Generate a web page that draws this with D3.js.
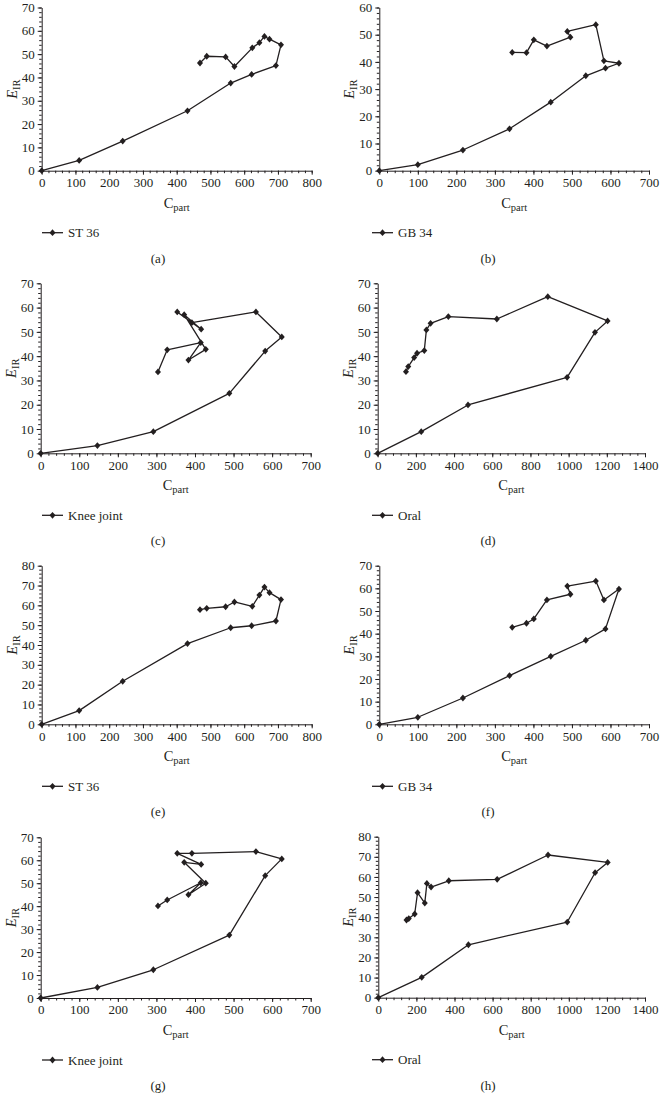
<!DOCTYPE html>
<html><head><meta charset="utf-8">
<script src="https://cdn.jsdelivr.net/npm/d3@7"></script>
<style>
html,body{margin:0;padding:0;background:#fff;}
svg{display:block;}
text{font-family:"Liberation Serif","DejaVu Serif",serif;fill:#231f20;}
</style></head>
<body>
<svg id="c" width="660" height="1104"></svg>
<script>
// ---- data ----
const xST   = [0, 111, 240, 432, 560, 622, 694, 709, 675, 660, 645, 624, 571, 545, 489, 469];
const yA    = [0, 4.4, 12.7, 25.7, 37.6, 41.3, 45.1, 54.0, 56.4, 57.6, 54.9, 52.7, 44.7, 48.8, 49.1, 46.2];
const yE    = [0, 6.9, 21.7, 40.7, 48.7, 49.7, 52.1, 62.9, 66.4, 69.2, 65.2, 59.5, 61.7, 59.3, 58.5, 57.8];

const xGB   = [0, 100, 217, 338, 445, 536, 587, 622, 583, 562, 488, 496, 435, 401, 382, 345];
const yB    = [0, 2.2, 7.6, 15.4, 25.2, 34.9, 37.7, 39.5, 40.4, 53.7, 51.2, 49.1, 45.8, 48.1, 43.4, 43.5];
const yF    = [0, 3.1, 11.6, 21.5, 30.0, 37.1, 42.1, 59.7, 54.9, 63.2, 61.0, 57.4, 54.9, 46.5, 44.6, 42.8];

const xKnee = [0, 147, 292, 489, 582, 625, 558, 392, 354, 416, 372, 428, 383, 415, 328, 304];
const yC    = [0, 3.2, 8.9, 24.7, 42.1, 47.9, 58.2, 53.8, 58.2, 51.1, 57.1, 42.8, 38.4, 45.6, 42.6, 33.5];
const yG    = [0, 4.6, 12.3, 27.4, 53.3, 60.6, 63.8, 63.0, 63.0, 58.2, 59.1, 50.0, 45.0, 50.2, 42.7, 40.1];

const xOral = [0, 228, 473, 992, 1138, 1204, 891, 624, 370, 277, 255, 244, 206, 191, 160, 148];
const yD    = [0, 8.9, 19.9, 31.3, 49.8, 54.5, 64.5, 55.3, 56.3, 53.5, 50.8, 42.3, 41.2, 39.4, 35.7, 33.6];
const yH    = [0, 10.1, 26.3, 37.6, 62.1, 67.2, 70.9, 58.8, 58.1, 55.0, 56.8, 47.0, 52.2, 41.6, 39.3, 38.6];

const seriesNames = ["ST 36", "GB 34", "Knee joint", "Oral", "ST 36", "GB 34", "Knee joint", "Oral"];
const panelLabels = ["(a)", "(b)", "(c)", "(d)", "(e)", "(f)", "(g)", "(h)"];
const xMaxes = [800, 700, 700, 1400, 800, 700, 700, 1400];
const yMaxes = [70, 60, 70, 70, 80, 70, 70, 80];
const xSteps = [100, 100, 100, 200, 100, 100, 100, 200];
const ySteps = [10, 10, 10, 10, 10, 10, 10, 10];

const xsList = [xST, xGB, xKnee, xOral, xST, xGB, xKnee, xOral];
const ysList = [yA, yB, yC, yD, yE, yF, yG, yH];

// layout boxes (plot area in px)
const boxes = [
  {l:41.7, r:311.7, t:7.5,   b:170.7, pl:0},
  {l:379.3,r:649,   t:7.5,   b:170.7, pl:330},
  {l:40.7, r:310.7, t:283.3, b:453.3, pl:0},
  {l:377.7,r:645,   t:283.3, b:453.3, pl:330},
  {l:41.7, r:311.7, t:565.7, b:724.3, pl:0},
  {l:379.3,r:649,   t:565.7, b:724.3, pl:330},
  {l:40.7, r:310.7, t:837.3, b:998,   pl:0},
  {l:378.3,r:645,   t:836.7, b:997.7, pl:330}
];

const svg = d3.select("#c");
const ink = "#231f20";
const diamond = (cx, cy, w, h) => `M${cx},${cy-h}L${cx+w},${cy}L${cx},${cy+h}L${cx-w},${cy}Z`;
const FS = 13;

boxes.forEach((bx, i) => {
  const xs = xsList[i], ys = ysList[i];
  const data = xs.map((x, k) => ({x, y: ys[k]}));
  const x = d3.scaleLinear().domain([0, xMaxes[i]]).range([bx.l, bx.r]);
  const y = d3.scaleLinear().domain([0, yMaxes[i]]).range([bx.b, bx.t]);
  const g = svg.append("g");

  const xMajor = d3.range(0, xMaxes[i] + 1e-9, xSteps[i]);
  const xMinor = d3.range(0, xMaxes[i] + 1e-9, xSteps[i] / 5);
  const yMajor = d3.range(0, yMaxes[i] + 1e-9, ySteps[i]);
  const yMinor = d3.range(0, yMaxes[i] + 1e-9, ySteps[i] / 5);

  // minor ticks
  const gxm = g.append("g").attr("transform", `translate(0,${bx.b})`)
    .call(d3.axisBottom(x).tickValues(xMinor).tickSize(2.5).tickFormat(""));
  const gym = g.append("g").attr("transform", `translate(${bx.l},0)`)
    .call(d3.axisLeft(y).tickValues(yMinor).tickSize(2.5).tickFormat(""));
  // major ticks + labels
  const gx = g.append("g").attr("transform", `translate(0,${bx.b})`)
    .call(d3.axisBottom(x).tickValues(xMajor).tickSize(4).tickSizeOuter(0).tickPadding(3).tickFormat(d3.format("d")));
  const gy = g.append("g").attr("transform", `translate(${bx.l},0)`)
    .call(d3.axisLeft(y).tickValues(yMajor).tickSize(4).tickSizeOuter(0).tickPadding(3).tickFormat(d3.format("d")));
  [gxm, gym, gx, gy].forEach(a => {
    a.selectAll("path,line").attr("stroke", ink).attr("stroke-width", 1);
    a.selectAll("text").attr("font-family", '"Liberation Serif",serif').attr("font-size", FS).attr("fill", ink);
  });
  gxm.select(".domain").remove(); gym.select(".domain").remove();

  // line
  g.append("path").datum(data)
    .attr("d", d3.line().x(d => x(d.x)).y(d => y(d.y)))
    .attr("fill", "none").attr("stroke", ink).attr("stroke-width", 1.3).attr("stroke-linejoin", "round");
  // markers
  g.selectAll("path.mk").data(data).enter().append("path").attr("class", "mk")
    .attr("d", d => diamond(x(d.x), y(d.y), 3, 3.4)).attr("fill", ink);

  // axis titles
  const cx = (bx.l + bx.r) / 2;
  const xt = g.append("text").attr("x", cx).attr("y", bx.b + 37).attr("text-anchor", "middle").attr("font-size", 14.5);
  xt.append("tspan").text("C");
  xt.append("tspan").attr("font-size", 10.5).attr("dy", 3).text("part");

  const ycy = (bx.t + bx.b) / 2;
  const yt = g.append("text").attr("transform", `translate(${bx.l - 25},${ycy}) rotate(-90)`)
    .attr("text-anchor", "middle").attr("font-size", 14.5);
  yt.append("tspan").attr("font-style", "italic").text("E");
  yt.append("tspan").attr("font-size", 10.5).attr("dy", 3).text("IR");

  // legend
  const ly = bx.b + 62;
  g.append("line").attr("x1", bx.pl + 42).attr("x2", bx.pl + 63).attr("y1", ly).attr("y2", ly)
    .attr("stroke", ink).attr("stroke-width", 1.3);
  g.append("path").attr("d", diamond(bx.pl + 52.5, ly, 3, 3.4)).attr("fill", ink);
  g.append("text").attr("x", bx.pl + 68).attr("y", ly + 4.5).attr("font-size", FS).text(seriesNames[i]);

  // panel label
  g.append("text").attr("x", bx.pl + 158).attr("y", bx.b + 92).attr("text-anchor", "middle")
    .attr("font-size", FS).text(panelLabels[i]);
});
</script>
</body></html>
